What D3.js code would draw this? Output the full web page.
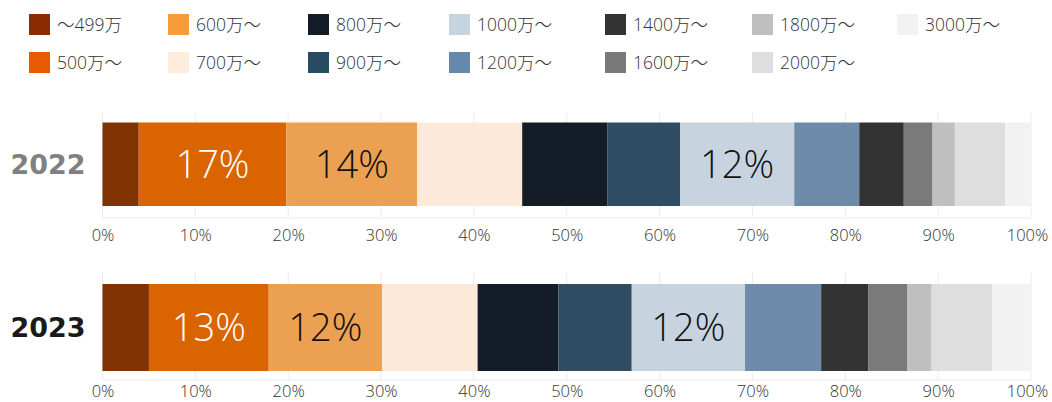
<!DOCTYPE html>
<html><head><meta charset="utf-8">
<script src="https://cdn.jsdelivr.net/npm/d3@7"></script>
<style>
html,body{margin:0;padding:0;background:#fff;}
svg{display:block;}
</style></head>
<body><svg id="c" width="1052" height="402"></svg>
<script>
const categories = ["～499万","500万～","600万～","700万～","800万～","900万～","1000万～","1200万～","1400万～","1600万～","1800万～","2000万～","3000万～"];
const years = ["2022","2023"];
const values2022 = [3.9,15.9,14.1,11.3,9.2,7.8,12.3,7.0,4.8,3.1,2.4,5.4,2.8];
const values2023 = [5.0,12.9,12.2,10.3,8.7,7.9,12.2,8.2,5.1,4.2,2.6,6.5,4.2];
const labels2022 = ["","17%","14%","","","","12%","","","","","",""];
const labels2023 = ["","13%","12%","","","","12%","","","","","",""];
const tickValues = [0,10,20,30,40,50,60,70,80,90,100];

const barColors = ["#803300","#d96400","#eba052","#fce9da","#141d27","#304c63","#c7d4df","#6e8ba9","#333333","#7a7a7a","#bfbfbf","#dedede","#f3f2f3"];
const legendColors = ["#8a2b00","#e85a00","#f79c3b","#fdebdc","#131d27","#284a62","#c5d4df","#6689aa","#333333","#797979","#bfbfbf","#dedede","#f3f2f3"];
const labelColors = ["#fff","#fff","#111","#111","#fff","#fff","#111","#fff","#fff","#fff","#111","#111","#111"];

const svg = d3.select("#c");
const jp = "'Open Sans','Noto Sans CJK JP',sans-serif";

// legend
const colX = [29,168,308,449,605,752,897];
const rowY = [14,52];
const leg = svg.append("g");
categories.forEach((c,i)=>{
  const col = Math.floor(i/2), row = i%2;
  const g = leg.append("g").attr("transform",`translate(${colX[col]},${rowY[row]})`);
  g.append("rect").attr("width",21).attr("height",21).attr("fill",legendColors[i]);
  g.append("text").attr("x",28).attr("y",17).text(c)
    .attr("font-family",jp).attr("font-size",17.5).attr("font-weight",300).attr("fill","#333");
});

const x = d3.scaleLinear().domain([0,100]).range([102.5,1031]);

const panels = [
  {year:years[0], vals:values2022, labs:labels2022, gTop:113, gBot:218, bTop:122.5, bBot:206, yc:"#808080", tickBase:241},
  {year:years[1], vals:values2023, labs:labels2023, gTop:272, gBot:380, bTop:284, bBot:371, yc:"#1a1a1a", tickBase:397}
];

panels.forEach(p=>{
  const g = svg.append("g");
  // grid
  g.selectAll("line.v").data(tickValues).join("line")
    .attr("x1",d=>x(d)).attr("x2",d=>x(d)).attr("y1",p.gTop).attr("y2",p.gBot)
    .attr("stroke","#ececec").attr("stroke-width",1);
  g.append("line").attr("x1",x(0)).attr("x2",x(100)).attr("y1",p.gBot).attr("y2",p.gBot)
    .attr("stroke","#ececec");
  // stacked
  let acc = 0;
  const segs = p.vals.map((v,i)=>{const s={i,x0:acc,x1:acc+v,lab:p.labs[i]}; acc+=v; return s;});
  g.selectAll("rect").data(segs).join("rect")
    .attr("x",d=>x(d.x0)).attr("width",d=>x(d.x1)-x(d.x0))
    .attr("y",p.bTop).attr("height",p.bBot-p.bTop)
    .attr("fill",d=>barColors[d.i]);
  g.selectAll("text.lab").data(segs.filter(d=>d.lab)).join("text")
    .attr("x",d=>(x(d.x0)+x(d.x1))/2).attr("y",(p.bTop+p.bBot)/2)
    .attr("dy","0.36em").attr("text-anchor","middle")
    .attr("font-family",jp).attr("font-weight",300).attr("font-size",38)
    .attr("fill",d=>labelColors[d.i]).text(d=>d.lab);
  // axis
  const ax = d3.axisBottom(x).tickValues(tickValues).tickSize(0).tickPadding(0).tickFormat(d=>d+"%");
  const a = g.append("g").attr("transform",`translate(0,${p.tickBase})`).call(ax);
  a.select(".domain").remove();
  a.selectAll("text").attr("dy",0).attr("y",0)
    .attr("x",d=>d===100?-4:0)
    .attr("font-family",jp).attr("font-size",16.5).attr("font-weight",300).attr("fill","#333");
  // year
  g.append("text").attr("x",48).attr("y",(p.bTop+p.bBot)/2).attr("dy","0.36em")
    .attr("text-anchor","middle").attr("font-family","'DejaVu Sans',sans-serif")
    .attr("font-weight","bold").attr("font-size",27).attr("fill",p.yc).text(p.year);
});
</script></body></html>
